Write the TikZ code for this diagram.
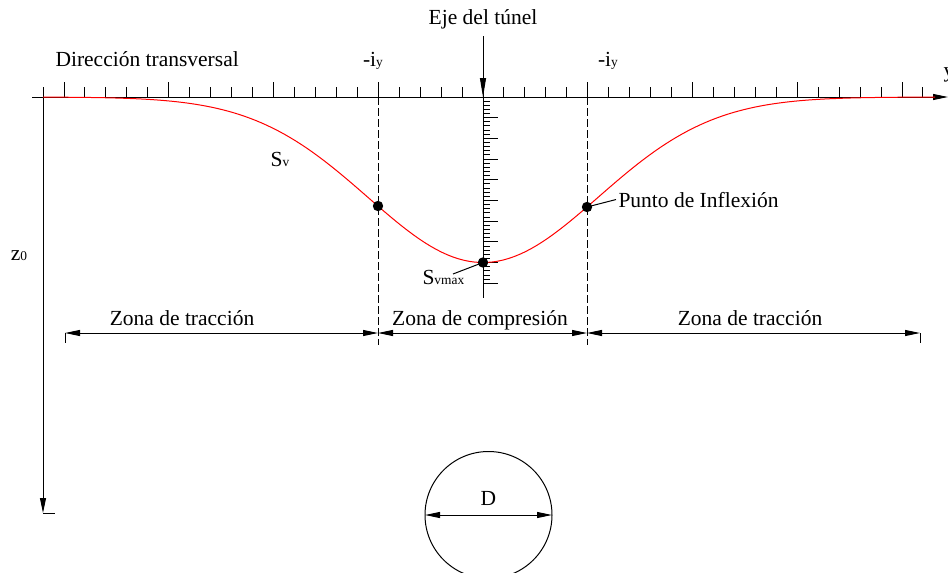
\documentclass[tikz,border=0pt]{standalone}
\usepackage{fontspec}
\setmainfont{Liberation Serif}
\newfontfamily\planofont{Liberation Serif}
\usepackage{tikz}
\usetikzlibrary{arrows.meta,positioning,calc}
\newcommand{\lowtxt}[1]{{\fontsize{6.7}{8}\selectfont #1}}

\begin{document}
\begin{tikzpicture}[x=0.5pt,y=-0.5pt,line width=0.5pt,
  every node/.style={font=\planofont\fontsize{10.75}{13}\selectfont,inner sep=0pt},
  tip/.style={-{Triangle[length=7.5pt,width=3pt]}},
  dimline/.style={{Triangle[length=7.5pt,width=3pt]}-{Triangle[length=7.5pt,width=3pt]}},
  guide/.style={dash pattern=on 4pt off 1.5pt}]

  \useasboundingbox (0,0) rectangle (948,573);

  % ejes
  \coordinate (xstart) at (32,97);
  \coordinate (xend) at (948,97);
  \coordinate (orig) at (43,97);
  \coordinate (zend) at (43,513);
  \coordinate (c0) at (483,97);
  \coordinate (cend) at (483,298);

  \draw[tip] (xstart) -- (xend);
  \draw[tip] (orig) -- (zend);
  \draw (zend) -- ++(12,0);
  \draw (c0) -- (cend);

  \foreach \n in {-21,...,21}
    \draw ({483+20.95*\n},97) -- ++(0,-10);
  \foreach \n in {-20,-15,...,20}
    \draw ({483+20.95*\n},97) -- ++(0,-15);

  \foreach \j in {1,...,45}
    \draw (483,{97+4.14*\j}) -- ++(7,0);
  \foreach \k in {1,...,9}
    \draw (483,{97+20.7*\k}) -- ++(15,0);

  % lineas de inflexion
  \coordinate (gL) at (378,97);
  \coordinate (gR) at (587,97);
  \draw[guide] (gL) -- ++(0,248);
  \draw[guide] (gR) -- ++(0,248);

  % asiento
  \draw[red,domain=43:935,samples=160]
    plot (\x,{97+165.5*exp(-0.5*((\x-483)/115)^2)});

  \coordinate (pL) at (378,206);
  \coordinate (pR) at (587,207);
  \coordinate (pM) at (483,262.5);
  \foreach \p in {pL,pR,pM}
    \fill (\p) circle (5.2);

  % textos
  \node[anchor=base west] (dirtr) at (55,66.7) {Dirección transversal};
  \node[anchor=base] (iyL) at (373,66.7) {-i\lowtxt{y}};
  \node[anchor=base] (iyR) at (608,66.7) {-i\lowtxt{y}};
  \node[anchor=base] (eje) at (483,25) {Eje del túnel};
  \node[anchor=base west] (ylab) at (943,77) {y};
  \node[anchor=base] (sv) at (280,166.7) {S\lowtxt{v}};
  \node[anchor=base] (z0) at (19,260) {z\lowtxt{0}};
  \node[anchor=base west] (svmax) at (422,284.7) {S\lowtxt{vmax}};
  \node[anchor=base west] (infl) at (618,207) {Punto de Inflexión};

  \draw[-{Triangle[length=9.5pt,width=3pt]},shorten <=3pt] (eje.south) -- (c0);
  \coordinate (svlead) at (453,274);
  \draw (svlead) -- (pM);
  \draw (pR) -- ([xshift=-1pt]infl.west);

  % zonas
  \coordinate (dA) at (65,333);
  \coordinate (dB) at (378,333);
  \coordinate (dC) at (587,333);
  \coordinate (dD) at (920,333);
  \draw[dimline] (dA) -- (dB);
  \draw[dimline] (dB) -- (dC);
  \draw[dimline] (dC) -- (dD);
  \draw (dA) -- ++(0,10);
  \draw (dD) -- ++(0,10);

  \node[anchor=base] (ztL) at (182,325) {Zona de tracción};
  \node[anchor=base] (zc) at (480,325) {Zona de compresión};
  \node[anchor=base] (ztR) at (750,325) {Zona de tracción};

  % tunel
  \coordinate (tc) at (488.5,515);
  \draw (tc) circle (63.5);
  \draw[dimline] ($(tc)+(-63.5,0)$) -- ($(tc)+(63.5,0)$);
  \node[anchor=base] (dlab) at (488.5,505) {D};

\end{tikzpicture}
\end{document}
